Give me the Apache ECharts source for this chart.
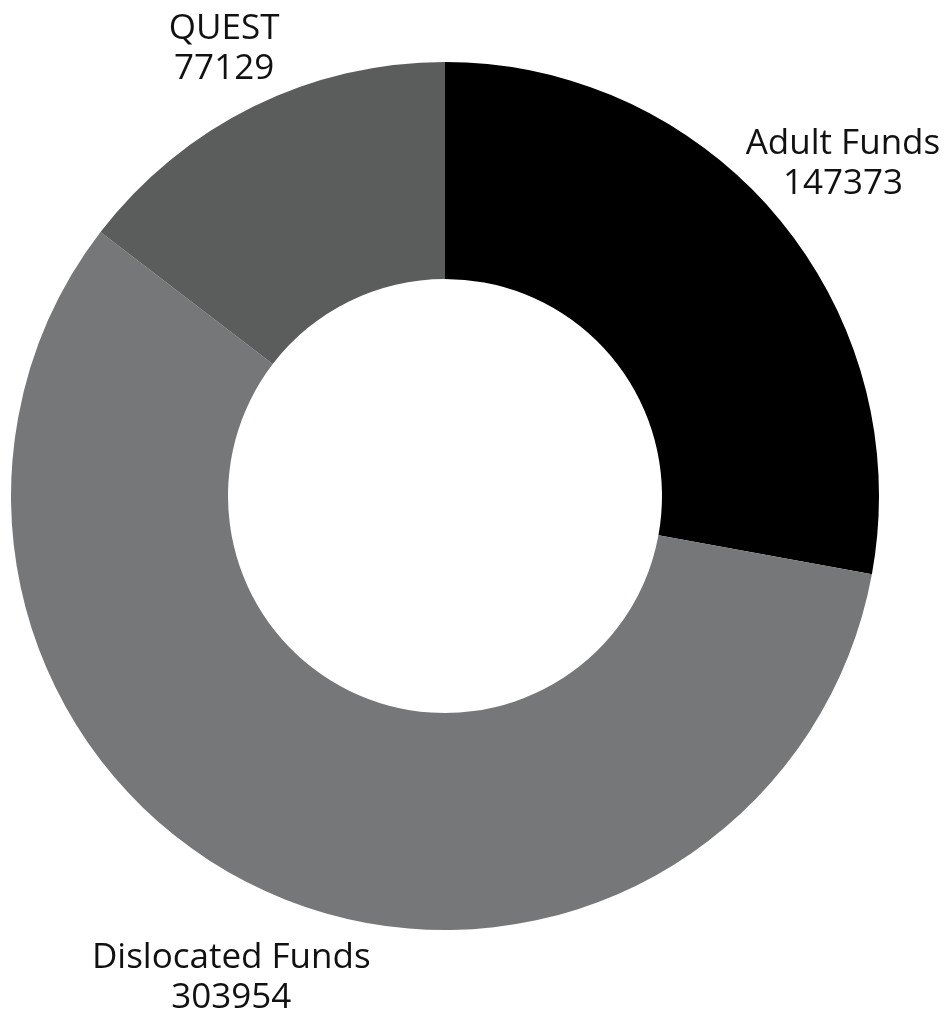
<!DOCTYPE html>
<html>
<head>
<meta charset="utf-8">
<style>
  html, body { margin: 0; padding: 0; background: #ffffff; }
  #chart { width: 952px; height: 1011px; }
</style>
<script src="https://cdn.jsdelivr.net/npm/echarts@6/dist/echarts.min.js"></script>
</head>
<body>
<div id="chart"></div>
<script>
// Funding sources, drawn clockwise from 12 o'clock
const categories = ['Adult Funds', 'Dislocated Funds', 'QUEST'];
const amounts = [147373, 303954, 77129];
const sliceColors = ['#000000', '#767778', '#5b5d5c'];
// distance of each label from the outer rim of the ring, in px
const labelGaps = [84, 93, 65];

const chart = echarts.init(document.getElementById('chart'), null, { renderer: 'canvas' });

const seriesData = categories.map((name, i) => ({
  name: name,
  value: amounts[i],
  itemStyle: { color: sliceColors[i] },
  labelLine: { length: labelGaps[i] }
}));

chart.setOption({
  animation: false,
  backgroundColor: '#ffffff',
  series: [{
    type: 'pie',
    center: [445, 496],
    radius: [217, 434],
    startAngle: 90,
    clockwise: true,
    avoidLabelOverlap: false,
    data: seriesData,
    label: {
      show: true,
      position: 'outside',
      formatter: '{b}\n{c}',
      color: '#111111',
      fontFamily: 'Open Sans',
      fontSize: 35,
      lineHeight: 40,
      width: 360,
      overflow: 'none',
      align: 'center'
    },
    labelLine: {
      show: true,
      length: 85,
      length2: 0,
      lineStyle: { opacity: 0 }
    },
    // centre each two-line label on the end of its (invisible) guide line
    labelLayout: function (params) {
      const pts = params.labelLinePoints;
      if (!pts) return {};
      const end = pts[pts.length - 1];
      return { x: end[0], y: end[1], align: 'center', verticalAlign: 'middle' };
    },
    emphasis: { disabled: true }
  }]
});
</script>
</body>
</html>
